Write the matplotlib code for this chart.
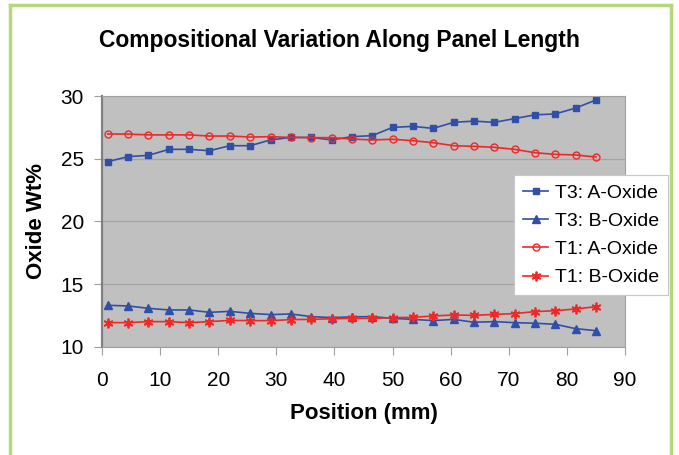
import numpy as np
import matplotlib.pyplot as plt

plt.rcParams['font.family'] = ['Liberation Sans', 'DejaVu Sans']

position = [1, 4.5, 8, 11.5, 15, 18.5, 22, 25.5, 29, 32.5, 36, 39.5, 43,
            46.5, 50, 53.5, 57, 60.5, 64, 67.5, 71, 74.5, 78, 81.5, 85]

t3_a = [24.77, 25.17, 25.27, 25.75, 25.75, 25.64, 26.04, 26.04, 26.5, 26.7,
        26.7, 26.5, 26.76, 26.84, 27.5, 27.58, 27.42, 27.9, 28.0, 27.9,
        28.2, 28.5, 28.57, 29.04, 29.68]
t3_b = [13.32, 13.27, 13.08, 12.95, 12.95, 12.76, 12.84, 12.68, 12.58, 12.63,
        12.42, 12.34, 12.4, 12.42, 12.28, 12.2, 12.1, 12.2, 11.97, 12.02,
        11.94, 11.89, 11.81, 11.46, 11.3]
t1_a = [26.97, 26.97, 26.9, 26.9, 26.9, 26.81, 26.81, 26.73, 26.76, 26.7,
        26.68, 26.68, 26.57, 26.5, 26.55, 26.44, 26.28, 26.04, 25.99, 25.91,
        25.75, 25.48, 25.35, 25.3, 25.14]
t1_b = [11.94, 11.94, 12.02, 12.02, 11.94, 12.02, 12.12, 12.1, 12.1, 12.18,
        12.2, 12.25, 12.28, 12.28, 12.34, 12.36, 12.47, 12.55, 12.52, 12.6,
        12.66, 12.82, 12.89, 13.03, 13.21]

blue = '#3050a8'
red = '#f02828'

fig = plt.figure(figsize=(6.79, 4.55), dpi=100)

# green frame around the chart (open at the bottom)
green = '#b5d87c'
fig.add_artist(plt.Line2D([0.0147, 0.0147], [0, 0.989], color=green, lw=2.5, transform=fig.transFigure))
fig.add_artist(plt.Line2D([0.988, 0.988], [0, 0.989], color=green, lw=2.5, transform=fig.transFigure))
fig.add_artist(plt.Line2D([0.0147, 0.988], [0.989, 0.989], color=green, lw=2.5, transform=fig.transFigure))

ax = fig.add_axes([0.1502, 0.2374, 0.7703, 0.5516])
ax.set_facecolor('#c0c0c0')

ax.plot(position, t3_a, color=blue, lw=1.2, marker='s', ms=5, label='T3: A-Oxide')
ax.plot(position, t3_b, color=blue, lw=1.2, marker='^', ms=6, label='T3: B-Oxide')
ax.plot(position, t1_a, color=red, lw=1.2, marker='o', ms=5, mfc='none', mew=1.0, label='T1: A-Oxide')
ax.plot(position, t1_b, color=red, lw=1.2, marker=(6, 2, 0), ms=7, mew=1.3, label='T1: B-Oxide')

ax.set_xlim(0, 90)
ax.set_ylim(10, 30)
ax.set_xticks(range(0, 91, 10))
ax.set_yticks(range(10, 31, 5))
ax.yaxis.grid(True, color='#a4a4a4', lw=0.9)
ax.set_axisbelow(True)

for side in ['top', 'right', 'bottom']:
    ax.spines[side].set_color('#a0a0a0')
ax.spines['left'].set_color('#808080')
ax.spines['left'].set_linewidth(1.6)

ax.tick_params(axis='both', direction='out', length=6, color='#a0a0a0',
               labelsize=15, pad=7)
ax.tick_params(axis='x', pad=11)

fig.text(0.5, 0.912, 'Compositional Variation Along Panel Length',
         ha='center', va='center', fontsize=16.5, fontweight='bold')
ax.set_xlabel('Position (mm)', fontsize=16, fontweight='bold', labelpad=10)
ax.set_ylabel('Oxide Wt%', fontsize=16, fontweight='bold', labelpad=10)

leg = fig.legend(loc='upper right', bbox_to_anchor=(0.984, 0.615), fontsize=14,
                 frameon=True, fancybox=False, framealpha=1, edgecolor='#c8c8c8',
                 handlelength=1.3, handletextpad=0.35, borderpad=0.45,
                 labelspacing=0.55, borderaxespad=0)
leg.get_frame().set_linewidth(0.8)

fig.savefig('out.png', dpi=100)
